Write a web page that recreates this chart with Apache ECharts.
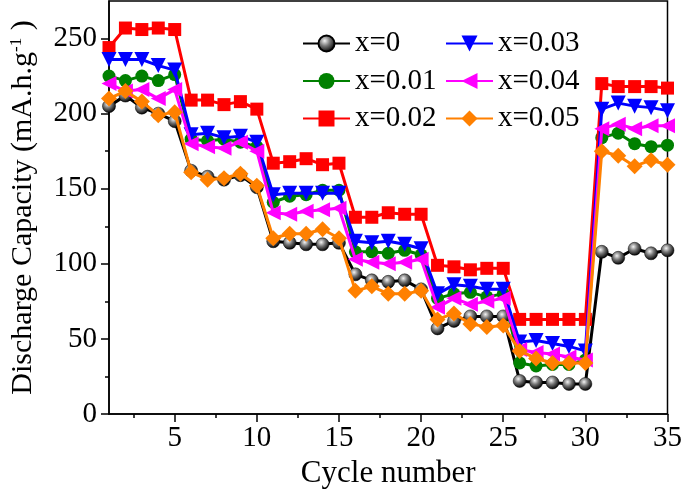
<!DOCTYPE html>
<html>
<head>
<meta charset="utf-8">
<script src="https://cdn.jsdelivr.net/npm/echarts@6/dist/echarts.min.js"></script>
<style>html,body{margin:0;padding:0;background:#fff}#c{width:685px;height:497px}</style>
</head>
<body>
<div id="c"></div>
<script>
const cycles = [1,2,3,4,5,6,7,8,9,10,11,12,13,14,15,16,17,18,19,20,21,22,23,24,25,26,27,28,29,30,31,32,33,34,35];
const seriesNames = ['x=0','x=0.01','x=0.02','x=0.03','x=0.04','x=0.05'];
const x0    = [205,212,204,200,195, 162,158,156,159,151, 115,114,113,113,114, 93,89,88,89,83, 57,62,65,65,65, 22,21,21,20,20, 108,104,110,107,109];
const x001  = [225,222,225,222,226, 183,182,183,181,178, 141,145,146,149,149, 108,108,107,109,106, 77,80,81,78,80, 34,32,33,33,36, 184,187,180,178,179];
const x002  = [244,257,256,257,256, 209,209,206,208,203, 167,168,170,166,167, 131,131,134,133,133, 99,98,96,97,97, 63,63,63,63,63, 220,218,218,218,217];
const x003  = [236,236,236,232,229, 186,187,184,185,181, 146,147,147,147,147, 115,114,115,113,110, 80,86,85,83,83, 48,49,47,45,42, 203,207,205,204,202];
const x004  = [220,215,216,210,216, 180,178,177,181,175, 134,133,135,136,137, 103,101,100,101,103, 71,77,73,75,77, 43,41,40,38,36, 190,193,190,192,192];
const x005  = [210,215,208,199,201, 161,156,157,160,152, 117,120,120,123,117, 82,85,80,80,82, 63,67,60,58,59, 42,37,34,34,34, 175,172,165,169,166];
const yTicks = [0,50,100,150,200,250];
const yMinor = [25,75,125,175,225];
const xTicks = [5,10,15,20,25,30,35];
const xMinor = [2.5,7.5,12.5,17.5,22.5,27.5,32.5];

const allValues = [x0,x001,x002,x003,x004,x005];
const colors = ['#000000','#008000','#ff0000','#0000ff','#ff00ff','#ff8000'];
const symbols = ['circle','circle','rect','triangle','triangle','diamond'];
const rotates = [0,0,0,180,90,0];
const sizes = [13,13,13,15,15,16];
const font = 'Liberation Serif';

const series = allValues.map((vals, i) => ({
  name: seriesNames[i],
  type: 'line',
  xAxisIndex: 0,
  yAxisIndex: 0,
  data: cycles.map((c, k) => [c, vals[k]]),
  symbol: symbols[i],
  symbolSize: sizes[i],
  symbolRotate: rotates[i],
  showAllSymbol: true,
  color: colors[i],
  lineStyle: {color: colors[i], width: 3},
  itemStyle: i === 0 ? {
    color: {type: 'radial', x: 0.4, y: 0.35, r: 0.65,
      colorStops: [{offset: 0, color: '#f4f4f4'}, {offset: 0.45, color: '#777'}, {offset: 1, color: '#000'}]},
    borderColor: '#000', borderWidth: 0.5
  } : {color: colors[i]},
  z: 2 + i,
  animation: false
}));

const legendCommon = {
  orient: 'vertical',
  itemWidth: 47,
  itemHeight: 20,
  itemGap: 8.5,
  textStyle: {fontFamily: font, fontSize: 29, color: '#000', padding: [0,0,0,0]}
};

const chart = echarts.init(document.getElementById('c'), null, {renderer: 'canvas'});
chart.setOption({
  animation: false,
  backgroundColor: '#fff',
  grid: {left: 107, right: 15, top: 1, bottom: 83, show: true, borderColor: '#000', borderWidth: 1.5, backgroundColor: 'transparent'},
  legend: [
    Object.assign({}, legendCommon, {left: 297, top: 24, data: seriesNames.slice(0,3)}),
    Object.assign({}, legendCommon, {left: 440, top: 24, data: seriesNames.slice(3,6)})
  ],
  xAxis: [{
    type: 'value', min: 1, max: 35,
    name: 'Cycle number', nameLocation: 'middle', nameGap: 43,
    nameTextStyle: {fontFamily: font, fontSize: 31, color: '#000'},
    axisLine: {show: true, lineStyle: {color: '#000', width: 1.5}},
    axisTick: {show: true, customValues: xTicks, length: 8, lineStyle: {color: '#000', width: 1.5}},
    axisLabel: {customValues: xTicks, fontFamily: font, fontSize: 29, color: '#000', margin: 10},
    splitLine: {show: false}
  }, {
    type: 'value', min: 1, max: 35, position: 'bottom', gridIndex: 0,
    axisLine: {show: false},
    axisTick: {show: true, customValues: xMinor, length: 4, lineStyle: {color: '#000', width: 1.5}},
    axisLabel: {show: false},
    splitLine: {show: false}
  }],
  yAxis: [{
    type: 'value', min: 0, max: 275,
    name: 'Discharge Capacity (mA.h.g{sup|-1}{n| )}', nameLocation: 'middle', nameGap: 71,
    nameTextStyle: {fontFamily: font, fontSize: 30, color: '#000',
      rich: {sup: {fontFamily: font, fontSize: 17, color: '#000', verticalAlign: 'top', padding: [0,0,13,0]},
             n: {fontFamily: font, fontSize: 30, color: '#000'}}},
    axisLine: {show: true, lineStyle: {color: '#000', width: 1.5}},
    axisTick: {show: true, customValues: yTicks, length: 8, lineStyle: {color: '#000', width: 1.5}},
    axisLabel: {customValues: yTicks, fontFamily: font, fontSize: 29, color: '#000', margin: 12},
    splitLine: {show: false}
  }, {
    type: 'value', min: 0, max: 275, position: 'left', gridIndex: 0,
    axisLine: {show: false},
    axisTick: {show: true, customValues: yMinor, length: 4, lineStyle: {color: '#000', width: 1.5}},
    axisLabel: {show: false},
    splitLine: {show: false}
  }],
  series: series
});
</script>
</body>
</html>
